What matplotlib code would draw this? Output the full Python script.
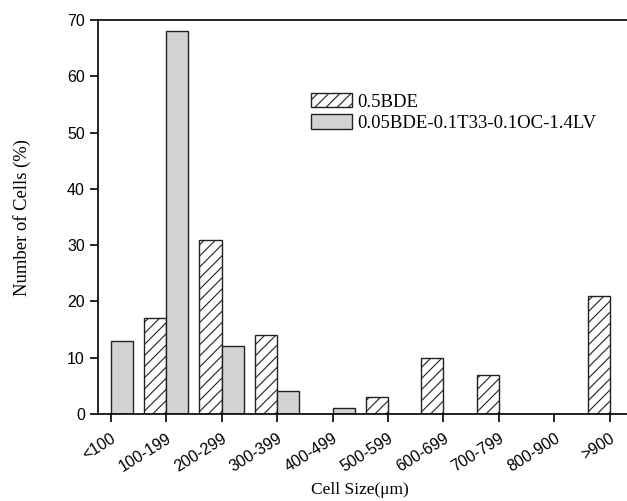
import numpy as np
import matplotlib.pyplot as plt

plt.rcParams["hatch.linewidth"] = 0.8

categories = ["<100", "100-199", "200-299", "300-399", "400-499",
              "500-599", "600-699", "700-799", "800-900", ">900"]
bde_05 = [0, 17, 31, 14, 0, 3, 10, 7, 0, 21]
bde_mix = [13, 68, 12, 4, 1, 0, 0, 0, 0, 0]

x = np.arange(len(categories))
w = 0.4

fig = plt.figure(figsize=(6.27, 5.01), dpi=100)
ax = fig.add_axes([98 / 627, 87 / 501, 1 - 98 / 627, 394 / 501])

ax.bar(x - w / 2, bde_05, width=w, facecolor="white", edgecolor="#222222",
       hatch="///", linewidth=1.0, label="0.5BDE")
ax.bar(x + w / 2, bde_mix, width=w, facecolor="#d3d3d3", edgecolor="#222222",
       linewidth=1.0, label="0.05BDE-0.1T33-0.1OC-1.4LV")

ax.set_xlim(-0.23, 9.31)
ax.set_ylim(0, 70)
ax.set_yticks(range(0, 71, 10))
ax.set_xticks(x)
ax.set_xticklabels(categories, rotation=32, ha="right", va="top",
                   rotation_mode="anchor", fontsize=11.5, family="Liberation Sans")
for lab in ax.get_yticklabels():
    lab.set_family("Liberation Sans")
    lab.set_fontsize(11.5)
ax.tick_params(direction="out", length=6, width=1.2)
ax.tick_params(axis="x", pad=6)

ax.spines["right"].set_visible(False)
for s in ["left", "top", "bottom"]:
    ax.spines[s].set_linewidth(1.2)

ax.set_xlabel("Cell Size(μm)", family="Liberation Serif", fontsize=12.5)
ax.xaxis.set_label_coords(0.495, -0.172)
ax.set_ylabel("Number of Cells (%)", family="Liberation Serif", fontsize=13.4)
ax.yaxis.set_label_coords(-0.127, 0.5)

ax.legend(loc="upper left", bbox_to_anchor=(0.403, 0.815), frameon=False,
          prop={"family": "Liberation Serif", "size": 13.5},
          handlelength=2.2, handleheight=0.8, handletextpad=0.25, labelspacing=0.2,
          borderaxespad=0, borderpad=0)

fig.savefig("out.png", dpi=100)
